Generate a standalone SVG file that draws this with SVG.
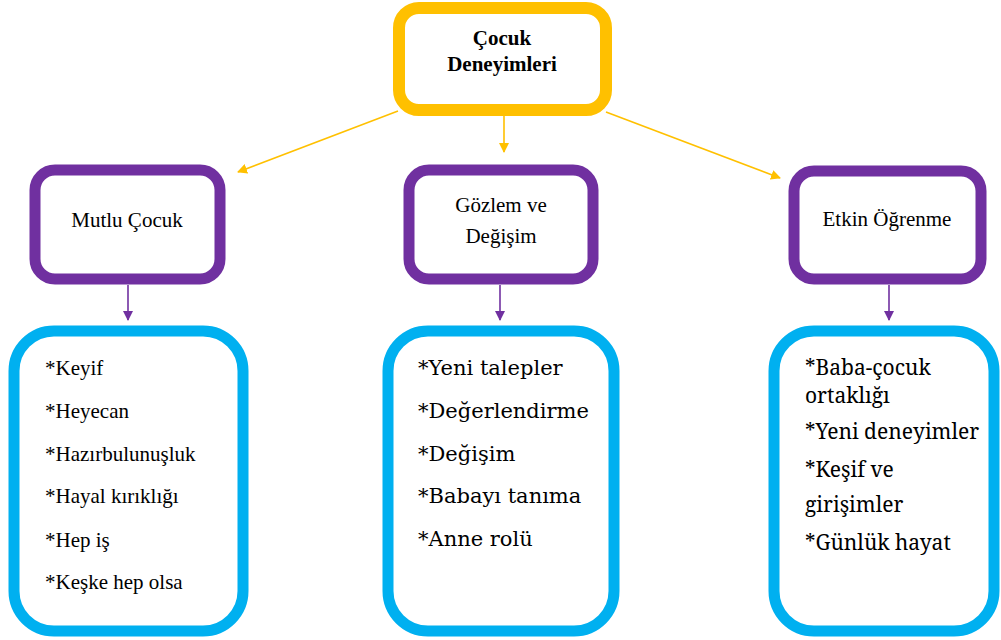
<svg xmlns="http://www.w3.org/2000/svg" width="1001" height="640" viewBox="0 0 1001 640">
<defs>
<marker id="ay" markerWidth="10" markerHeight="10" refX="9" refY="5" orient="auto" markerUnits="userSpaceOnUse"><path d="M0,0 L10,5 L0,10 z" fill="#FFC000"/></marker>
<marker id="ap" markerWidth="10" markerHeight="10" refX="9" refY="5" orient="auto" markerUnits="userSpaceOnUse"><path d="M0,0 L10,5 L0,10 z" fill="#7030A0"/></marker>
</defs>
<rect width="1001" height="640" fill="#fff"/>
<g id="connectors" fill="none" stroke-width="1.6">
<line stroke="#FFC000" x1="398" y1="111" x2="238" y2="172" marker-end="url(#ay)"/>
<line stroke="#FFC000" x1="504" y1="116" x2="504" y2="152" marker-end="url(#ay)"/>
<line stroke="#FFC000" x1="606" y1="112" x2="780" y2="178" marker-end="url(#ay)"/>
<line stroke="#7030A0" x1="128" y1="285" x2="128" y2="320" marker-end="url(#ap)"/>
<line stroke="#7030A0" x1="500" y1="285" x2="500" y2="320" marker-end="url(#ap)"/>
<line stroke="#7030A0" x1="889" y1="285" x2="889" y2="320" marker-end="url(#ap)"/>
</g>
<g id="root">
<rect fill="#fff" stroke="#FFC000" stroke-width="12" x="399" y="8" width="207" height="102" rx="20"/>
<text x="502" y="45" font-size="21" font-family="Times New Roman" font-weight="bold" text-anchor="middle">Çocuk</text>
<text x="502" y="71" font-size="21" font-family="Times New Roman" font-weight="bold" text-anchor="middle">Deneyimleri</text>
</g>
<g id="mutlu">
<rect fill="#fff" stroke="#7030A0" stroke-width="11" x="35" y="170" width="185" height="109" rx="20"/>
<text x="127" y="227" font-size="21" font-family="serif" text-anchor="middle">Mutlu Çocuk</text>
</g>
<g id="gozlem">
<rect fill="#fff" stroke="#7030A0" stroke-width="11" x="409" y="170" width="184" height="109" rx="20"/>
<text x="501" y="212" font-size="21" font-family="Tinos" text-anchor="middle">Gözlem ve</text>
<text x="501" y="243" font-size="21" font-family="Tinos" text-anchor="middle">Değişim</text>
</g>
<g id="etkin">
<rect fill="#fff" stroke="#7030A0" stroke-width="11" x="794" y="171" width="187" height="108" rx="20"/>
<text x="887" y="226" font-size="21" style="font-family:'Liberation Serif',serif" text-anchor="middle">Etkin Öğrenme</text>
</g>
<g id="list1">
<rect fill="#fff" stroke="#00B0F0" stroke-width="11" x="14" y="331" width="229" height="300" rx="40"/>
<text x="45" y="375" font-size="21" font-family="Liberation Serif">*Keyif</text>
<text x="45" y="418" font-size="21" font-family="Liberation Serif">*Heyecan</text>
<text x="45" y="461" font-size="21" font-family="Liberation Serif">*Hazırbulunuşluk</text>
<text x="45" y="503" font-size="21" font-family="Liberation Serif">*Hayal kırıklığı</text>
<text x="45" y="547" font-size="21" font-family="Liberation Serif">*Hep iş</text>
<text x="45" y="589" font-size="21" font-family="Liberation Serif">*Keşke hep olsa</text>
</g>
<g id="list2">
<rect fill="#fff" stroke="#00B0F0" stroke-width="11" x="388" y="331" width="226" height="300" rx="40"/>
<text x="418" y="375" font-size="21" font-family="DejaVu Serif">*Yeni talepler</text>
<text x="418" y="418" font-size="21" font-family="DejaVu Serif">*Değerlendirme</text>
<text x="418" y="461" font-size="21" font-family="DejaVu Serif">*Değişim</text>
<text x="418" y="503" font-size="21" font-family="DejaVu Serif">*Babayı tanıma</text>
<text x="418" y="546" font-size="21" font-family="DejaVu Serif">*Anne rolü</text>
</g>
<g id="list3">
<rect fill="#fff" stroke="#00B0F0" stroke-width="11" x="774" y="331" width="220" height="300" rx="40"/>
<text x="805" y="375" font-size="21" font-family="Noto Serif">*Baba-çocuk</text>
<text x="805" y="403" font-size="21" font-family="Noto Serif">ortaklığı</text>
<text x="805" y="439" font-size="21" font-family="Noto Serif">*Yeni deneyimler</text>
<text x="805" y="477" font-size="21" font-family="Noto Serif">*Keşif ve</text>
<text x="805" y="512" font-size="21" font-family="Noto Serif">girişimler</text>
<text x="805" y="550" font-size="21" font-family="Noto Serif">*Günlük hayat</text>
</g>
</svg>
